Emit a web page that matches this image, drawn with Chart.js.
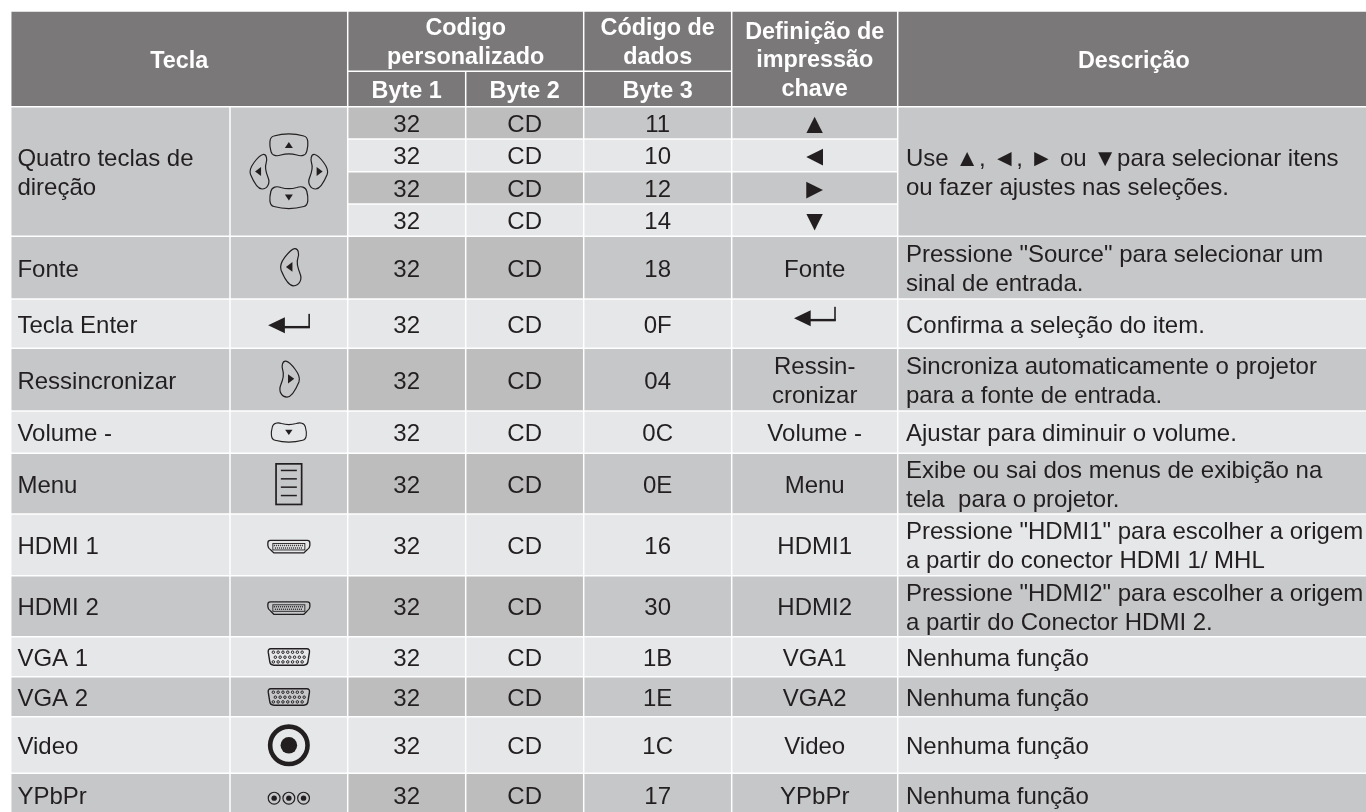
<!DOCTYPE html>
<html lang="pt">
<head>
<meta charset="utf-8">
<title>Tecla</title>
<script src="https://cdn.jsdelivr.net/npm/chart.js@4/dist/chart.umd.min.js"></script>
<style>
    html, body { margin: 0; padding: 0; background: #fff; overflow: hidden; }
    #main-chart { display: block; }
</style>
</head>
<body>
<canvas id="main-chart" width="1366" height="812"></canvas>
<script>
// table content
const row_keys = ["", "", "", "", "Fonte", "Tecla Enter", "Ressincronizar", "Volume -", "Menu", "HDMI 1", "HDMI 2", "VGA 1", "VGA 2", "Video", "YPbPr"];
const byte_1 = ["32", "32", "32", "32", "32", "32", "32", "32", "32", "32", "32", "32", "32", "32", "32"];
const byte_2 = ["CD", "CD", "CD", "CD", "CD", "CD", "CD", "CD", "CD", "CD", "CD", "CD", "CD", "CD", "CD"];
const byte_3 = ["11", "10", "12", "14", "18", "0F", "04", "0C", "0E", "16", "30", "1B", "1E", "1C", "17"];
const key_defs = ["▲", "◄", "►", "▼", "Fonte", "", "Ressin-\ncronizar", "Volume -", "Menu", "HDMI1", "HDMI2", "VGA1", "VGA2", "Video", "YPbPr"];
const descriptions = [
    "", "", "", "",
    "Pressione \"Source\" para selecionar um\nsinal de entrada.",
    "Confirma a seleção do item.",
    "Sincroniza automaticamente o projetor\npara a fonte de entrada.",
    "Ajustar para diminuir o volume.",
    "Exibe ou sai dos menus de exibição na\ntela  para o projetor.",
    "Pressione \"HDMI1\" para escolher a origem\na partir do conector HDMI 1/ MHL",
    "Pressione \"HDMI2\" para escolher a origem\na partir do Conector HDMI 2.",
    "Nenhuma função",
    "Nenhuma função",
    "Nenhuma função",
    "Nenhuma função",
];
const key_group_label = "Quatro teclas de\ndireção";
const group_description = "Use ▲, ◄, ► ou ▼para selecionar itens\nou fazer ajustes nas seleções.";
const row_icons = ["", "", "", "", "blob_left", "enter", "blob_right", "pad_down", "menu", "hdmi", "hdmi", "vga", "vga", "rca", "ypbpr"];

// layout, in the units of the two hidden axes
const col_edges = [10.7, 230, 347.7, 465.7, 583.7, 731.7, 897.7, 1368];
const row_edges = [106.7, 139, 171.7, 204, 236.3, 299, 348.3, 411, 453.3, 514, 575.7, 636.7, 676.7, 716.7, 773.3, 817];
const head_edges = [11, 71.3, 106.7];
const icon_nudge = { blob_left: [2.5, -0.7], blob_right: [0.2, -0.8], enter: [0, 1.7], menu: [0, 0.2], hdmi: [0, 2.1], vga: [0, 0.5], rca: [0, 0.3], ypbpr: [0, 3], pad_down: [0, 0.2] };
const GAP = 0.75;
const TEXT_DY = 2.4;
const HEAD_DY = 1;

const HEAD_BG = "#7a7879";
const DARK_BG = "#c6c7c9";
const BYTE_BG = "#bdbdbe";
const LIGHT_BG = "#e6e7e9";
const INK = "#231f20";
const FONT = '"Liberation Sans", Arial, sans-serif';

// one floating bar dataset for every column width
const coluna = (left, right, cells) => ({
    type: "bar",
    grouped: false,
    inflateAmount: 0,
    borderWidth: 0,
    barThickness: col_edges[right] - col_edges[left] - GAP * 2,
    backgroundColor: cells.map((c) => c.color),
    data: cells.map((c) => ({
        x: (col_edges[left] + col_edges[right]) / 2,
        y: [c.top + GAP, c.bottom - GAP],
    })),
});

const isDark = (i) => i % 2 === 0;
const rowCell = (i, color) => ({ top: row_edges[i], bottom: row_edges[i + 1], color: color });
const headCell = (a, b) => ({ top: head_edges[a], bottom: head_edges[b], color: HEAD_BG });
const rowsFrom = (start, dark, light) => row_keys.map((_, i) => i).filter((i) => i >= start).map((i) => rowCell(i, isDark(i) ? dark : light));
const spanned = () => [{ top: row_edges[0], bottom: row_edges[4], color: DARK_BG }, ...rowsFrom(4, DARK_BG, LIGHT_BG)];

const datasets_tabela = [
    coluna(0, 2, [headCell(0, 2)]),
    coluna(2, 4, [headCell(0, 1)]),
    coluna(2, 3, [headCell(1, 2)]),
    coluna(3, 4, [headCell(1, 2)]),
    coluna(4, 5, [headCell(0, 1), headCell(1, 2)]),
    coluna(5, 6, [headCell(0, 2)]),
    coluna(6, 7, [headCell(0, 2)]),
    coluna(0, 1, spanned()),
    coluna(1, 2, spanned()),
    coluna(2, 3, rowsFrom(0, BYTE_BG, LIGHT_BG)),
    coluna(3, 4, rowsFrom(0, BYTE_BG, LIGHT_BG)),
    coluna(4, 5, rowsFrom(0, DARK_BG, LIGHT_BG)),
    coluna(5, 6, rowsFrom(0, DARK_BG, LIGHT_BG)),
    coluna(6, 7, spanned()),
];

// icons, all drawn around (0, 0)
const padUp = (ctx) => {
    ctx.beginPath();
    ctx.moveTo(-15, -9);
    ctx.bezierCurveTo(-6, -11.5, 6, -11.5, 15, -9);
    ctx.bezierCurveTo(20, -8, 19.5, 0, 18, 6);
    ctx.bezierCurveTo(17, 11, 12, 11.5, 8, 10);
    ctx.bezierCurveTo(3, 8.5, -3, 8.5, -8, 10);
    ctx.bezierCurveTo(-12, 11.5, -17, 11, -18, 6);
    ctx.bezierCurveTo(-19.5, 0, -20, -8, -15, -9);
    ctx.closePath();
    ctx.stroke();
    ctx.beginPath();
    ctx.moveTo(-4, 3);
    ctx.lineTo(4, 3);
    ctx.lineTo(0, -3);
    ctx.closePath();
    ctx.fill();
};

const blobLeft = (ctx, s) => {
    ctx.save();
    ctx.scale(s, s);
    ctx.beginPath();
    ctx.moveTo(3, -17);
    ctx.bezierCurveTo(6.5, -17.5, 7.5, -12, 6, -8);
    ctx.bezierCurveTo(4.5, -4, 6, 1, 8, 6);
    ctx.bezierCurveTo(10.5, 12, 7, 17.5, 2, 17.5);
    ctx.bezierCurveTo(-3, 17.5, -7, 9, -9.5, 3);
    ctx.bezierCurveTo(-11, -1, -9, -5, -6, -9);
    ctx.bezierCurveTo(-3, -13, 0, -16.5, 3, -17);
    ctx.closePath();
    ctx.lineWidth = 1.2 / s;
    ctx.stroke();
    ctx.beginPath();
    ctx.moveTo(-5, 0);
    ctx.lineTo(1, -4.5);
    ctx.lineTo(1, 4.5);
    ctx.closePath();
    ctx.fill();
    ctx.restore();
};

const hdmiIcon = (ctx) => {
    ctx.lineWidth = 1.3;
    ctx.beginPath();
    ctx.moveTo(-18.5, -6.5);
    ctx.lineTo(18.5, -6.5);
    ctx.quadraticCurveTo(21, -6.5, 21, -4);
    ctx.lineTo(21, -1.5);
    ctx.quadraticCurveTo(21, 1, 18, 3);
    ctx.lineTo(15, 6);
    ctx.lineTo(-15, 6);
    ctx.lineTo(-18, 3);
    ctx.quadraticCurveTo(-21, 1, -21, -1.5);
    ctx.lineTo(-21, -4);
    ctx.quadraticCurveTo(-21, -6.5, -18.5, -6.5);
    ctx.closePath();
    ctx.stroke();
    ctx.lineWidth = 0.9;
    ctx.strokeRect(-16, -3.5, 32, 6.5);
    ctx.setLineDash([1, 1]);
    ctx.lineWidth = 1.4;
    ctx.beginPath();
    ctx.moveTo(-15, -1.5);
    ctx.lineTo(15, -1.5);
    ctx.moveTo(-14, 1);
    ctx.lineTo(14, 1);
    ctx.stroke();
    ctx.setLineDash([]);
};

const vgaIcon = (ctx) => {
    ctx.lineWidth = 1.4;
    ctx.beginPath();
    ctx.moveTo(-18, -8.5);
    ctx.lineTo(18, -8.5);
    ctx.quadraticCurveTo(21, -8.5, 20.6, -5);
    ctx.lineTo(19, 5);
    ctx.quadraticCurveTo(18.5, 8, 15, 8);
    ctx.lineTo(-15, 8);
    ctx.quadraticCurveTo(-18.5, 8, -19, 5);
    ctx.lineTo(-20.6, -5);
    ctx.quadraticCurveTo(-21, -8.5, -18, -8.5);
    ctx.closePath();
    ctx.stroke();
    ctx.lineWidth = 1;
    [[-5, -15.5], [0, -13.5], [4.7, -15.5]].forEach(([dy, start]) => {
        for (let i = 0; i < 7; i++) {
            ctx.beginPath();
            ctx.arc(start + i * 4.8, dy, 1.25, 0, Math.PI * 2);
            ctx.stroke();
        }
    });
};

const rcaDot = (ctx, cx, ring, line, inner) => {
    ctx.lineWidth = line;
    ctx.beginPath();
    ctx.arc(cx, 0, ring, 0, Math.PI * 2);
    ctx.stroke();
    ctx.beginPath();
    ctx.arc(cx, 0, inner, 0, Math.PI * 2);
    ctx.fill();
};

const enterIcon = (ctx) => {
    ctx.beginPath();
    ctx.moveTo(-20.7, 0);
    ctx.lineTo(-4, -8);
    ctx.lineTo(-4, 8);
    ctx.closePath();
    ctx.fill();
    ctx.fillRect(-6, 0.6, 27, 2.4);
    ctx.fillRect(19.5, -11.5, 1.6, 14);
};

const menuIcon = (ctx) => {
    ctx.lineWidth = 1.7;
    ctx.strokeRect(-12.8, -20, 25.6, 40.6);
    ctx.lineWidth = 1.5;
    [-13.4, -5, 3.3, 11.7].forEach((dy) => {
        ctx.beginPath();
        ctx.moveTo(-8, dy);
        ctx.lineTo(8, dy);
        ctx.stroke();
    });
};

const icon_painters = {
    blob_left: (ctx) => blobLeft(ctx, 1.08),
    blob_right: (ctx) => { ctx.scale(-1, 1); blobLeft(ctx, 1.04); },
    pad_up: (ctx) => padUp(ctx),
    pad_down: (ctx) => { ctx.scale(0.92, -0.88); padUp(ctx); },
    pad_bottom: (ctx) => { ctx.scale(1, -1); padUp(ctx); },
    side_left: (ctx) => blobLeft(ctx, 1),
    side_right: (ctx) => { ctx.scale(-1, 1); blobLeft(ctx, 1); },
    enter: enterIcon,
    menu: menuIcon,
    hdmi: hdmiIcon,
    vga: vgaIcon,
    rca: (ctx) => rcaDot(ctx, 0, 18.7, 4.6, 8.3),
    ypbpr: (ctx) => {
        [-14.7, 0, 14.7].forEach((cx) => rcaDot(ctx, cx, 5.9, 1.2, 2.7));
    },
};

const desenharTeksTabela = {
    id: "isi_tabela",
    afterDatasetsDraw(chart) {
        const { ctx, scales } = chart;
        const px = (v) => scales.x.getPixelForValue(v);
        const py = (v) => scales.y.getPixelForValue(v);
        const mid = (a, b) => (a + b) / 2;
        const LINE = 28.8;

        const tulis = (text, x, y, align, font, color) => {
            ctx.font = font;
            ctx.fillStyle = color;
            ctx.textAlign = align;
            ctx.textBaseline = "middle";
            const lines = text.split("\n");
            lines.forEach((line, i) => {
                ctx.fillText(line, px(x), py(y + (i - (lines.length - 1) / 2) * LINE));
            });
        };

        const icon = (name, x, y) => {
            ctx.save();
            ctx.translate(px(x), py(y));
            ctx.strokeStyle = INK;
            ctx.fillStyle = INK;
            ctx.lineWidth = 1.2;
            icon_painters[name](ctx);
            ctx.restore();
        };

        const HEAD_FONT = `bold 23.4px ${FONT}`;
        const BODY_FONT = `24px ${FONT}`;
        const ARROW_FONT = `28px ${FONT}`;
        const c = col_edges;

        // header
        tulis("Tecla", mid(c[0], c[2]), 60.5 + HEAD_DY, "center", HEAD_FONT, "#fff");
        tulis("Codigo\npersonalizado", mid(c[2], c[4]), 42 + HEAD_DY, "center", HEAD_FONT, "#fff");
        tulis("Código de\ndados", mid(c[4], c[5]), 42 + HEAD_DY, "center", HEAD_FONT, "#fff");
        tulis("Byte 1", mid(c[2], c[3]), 90.5 + HEAD_DY, "center", HEAD_FONT, "#fff");
        tulis("Byte 2", mid(c[3], c[4]), 90.5 + HEAD_DY, "center", HEAD_FONT, "#fff");
        tulis("Byte 3", mid(c[4], c[5]), 90.5 + HEAD_DY, "center", HEAD_FONT, "#fff");
        tulis("Definição de\nimpressão\nchave", mid(c[5], c[6]), 60 + HEAD_DY, "center", HEAD_FONT, "#fff");
        tulis("Descrição", mid(c[6], c[7]) + 1, 60.5 + HEAD_DY, "center", HEAD_FONT, "#fff");

        // body
        const groupMid = mid(row_edges[0], row_edges[4]) + TEXT_DY;
        tulis(key_group_label, 17.4, groupMid, "left", BODY_FONT, INK);
        tulis(group_description, 906, groupMid, "left", BODY_FONT, INK);

        row_keys.forEach((key, i) => {
            const y = mid(row_edges[i], row_edges[i + 1]);
            const ty = y + TEXT_DY;
            if (key) tulis(key, 17.4, ty, "left", BODY_FONT, INK);
            tulis(byte_1[i], mid(c[2], c[3]), ty, "center", BODY_FONT, INK);
            tulis(byte_2[i], mid(c[3], c[4]), ty, "center", BODY_FONT, INK);
            tulis(byte_3[i], mid(c[4], c[5]), ty, "center", BODY_FONT, INK);
            if (key_defs[i]) tulis(key_defs[i], mid(c[5], c[6]), ty, "center", i < 4 ? ARROW_FONT : BODY_FONT, INK);
            if (descriptions[i]) tulis(descriptions[i], 906, ty, "left", BODY_FONT, INK);
            const name = row_icons[i];
            if (name) icon(name, mid(c[1], c[2]) + icon_nudge[name][0], y + icon_nudge[name][1]);
        });

        // four way pad and the enter sign of the key column
        const iconX = mid(c[1], c[2]);
        icon("pad_up", iconX, 145);
        icon("pad_bottom", iconX, 197.5);
        icon("side_left", iconX - 28.8, 171.5);
        icon("side_right", iconX + 28.8, 171.5);
        icon("enter", mid(c[5], c[6]), 318.3);
    },
};

document.addEventListener("DOMContentLoaded", () => {
    const ctx = document.getElementById("main-chart").getContext("2d");
    new Chart(ctx, {
        type: "bar",
        data: { datasets: datasets_tabela },
        options: {
            responsive: false,
            animation: false,
            layout: { padding: 0 },
            events: [],
            plugins: {
                legend: { display: false },
                tooltip: { enabled: false },
            },
            scales: {
                x: { type: "linear", min: 0, max: 1366, display: false, offset: false },
                y: { type: "linear", min: 0, max: 812, reverse: true, display: false, stacked: false },
            },
        },
        plugins: [desenharTeksTabela],
    });
});
</script>
</body>
</html>
